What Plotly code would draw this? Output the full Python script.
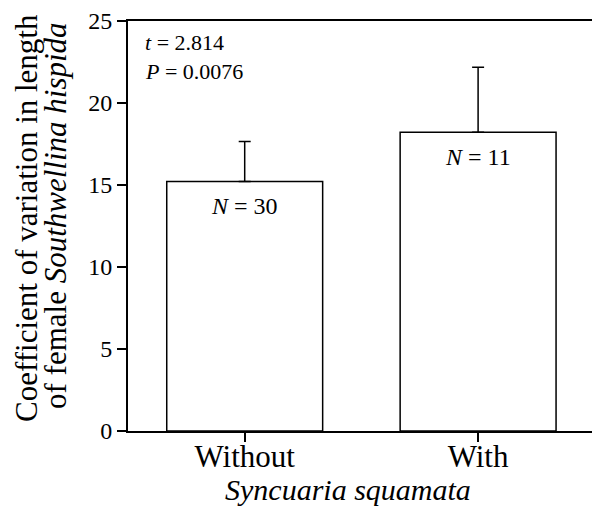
import plotly.graph_objects as go

categories = ["Without", "With"]
means = [15.22, 18.21]
err_upper = [2.44, 3.97]
n_labels = ["<i>N</i> = 30", "<i>N</i> = 11"]
y_ticks = [0, 5, 10, 15, 20, 25]

FONT = "Liberation Serif"
x_pos = list(range(len(categories)))

fig = go.Figure()
fig.add_trace(go.Bar(
    x=x_pos, y=means, width=0.668,
    marker=dict(color="white", line=dict(color="black", width=1.5)),
    error_y=dict(type="data", symmetric=False, array=err_upper,
                 arrayminus=[0] * len(means), color="black",
                 thickness=1.5, width=6),
    showlegend=False, hoverinfo="skip",
))

L, R, T, B = 128, 0, 21, 79
W, H = 592, 510
pw, ph = W - L - R, H - T - B

def px_x(p):
    return (p - L) / pw

def px_y(p):
    return (H - B - p) / ph

annotations = []
for xi, m, lab in zip(x_pos, means, n_labels):
    annotations.append(dict(x=xi, y=m, xref="x", yref="y", text=lab,
                            showarrow=False, yshift=-25, yanchor="middle",
                            font=dict(family=FONT, size=24, color="black")))

annotations += [
    dict(x=px_x(143), y=px_y(42.5), xref="paper", yref="paper",
         text="<i>t</i> = 2.814", showarrow=False, xanchor="left", yanchor="middle",
         font=dict(family=FONT, size=22, color="black")),
    dict(x=px_x(143), y=px_y(71), xref="paper", yref="paper",
         text="<i>P</i> = 0.0076", showarrow=False, xanchor="left", yanchor="middle",
         font=dict(family=FONT, size=22, color="black")),
    dict(x=px_x(348), y=px_y(490), xref="paper", yref="paper",
         text="<i>Syncuaria squamata</i>", showarrow=False,
         xanchor="center", yanchor="middle",
         font=dict(family=FONT, size=30, color="black")),
    dict(x=px_x(26), y=px_y(218), xref="paper", yref="paper",
         text="Coefficient of variation in length", showarrow=False,
         textangle=-90, xanchor="center", yanchor="middle",
         font=dict(family=FONT, size=31, color="black")),
    dict(x=px_x(55), y=px_y(216), xref="paper", yref="paper",
         text="of female <i>Southwellina hispida</i>", showarrow=False,
         textangle=-90, xanchor="center", yanchor="middle",
         font=dict(family=FONT, size=31, color="black")),
]

fig.update_layout(
    width=W, height=H, autosize=False,
    margin=dict(l=L, r=R, t=T, b=B, pad=0),
    paper_bgcolor="white", plot_bgcolor="white",
    font=dict(family=FONT, color="black"),
    annotations=annotations,
    xaxis=dict(range=[-0.5, 1.488], tickvals=x_pos, ticktext=categories,
               ticks="outside", ticklen=9, tickwidth=2, tickcolor="black",
               showline=True, linewidth=2, linecolor="black", mirror=True,
               showgrid=False, zeroline=False, ticklabelstandoff=-12,
               tickfont=dict(family=FONT, size=31, color="black")),
    yaxis=dict(range=[0, 25], tickvals=y_ticks,
               ticks="outside", ticklen=9, tickwidth=2, tickcolor="black",
               showline=True, linewidth=2, linecolor="black",
               showgrid=False, zeroline=False,
               tickfont=dict(family=FONT, size=24, color="black")),
)

fig.write_html("out.html")
